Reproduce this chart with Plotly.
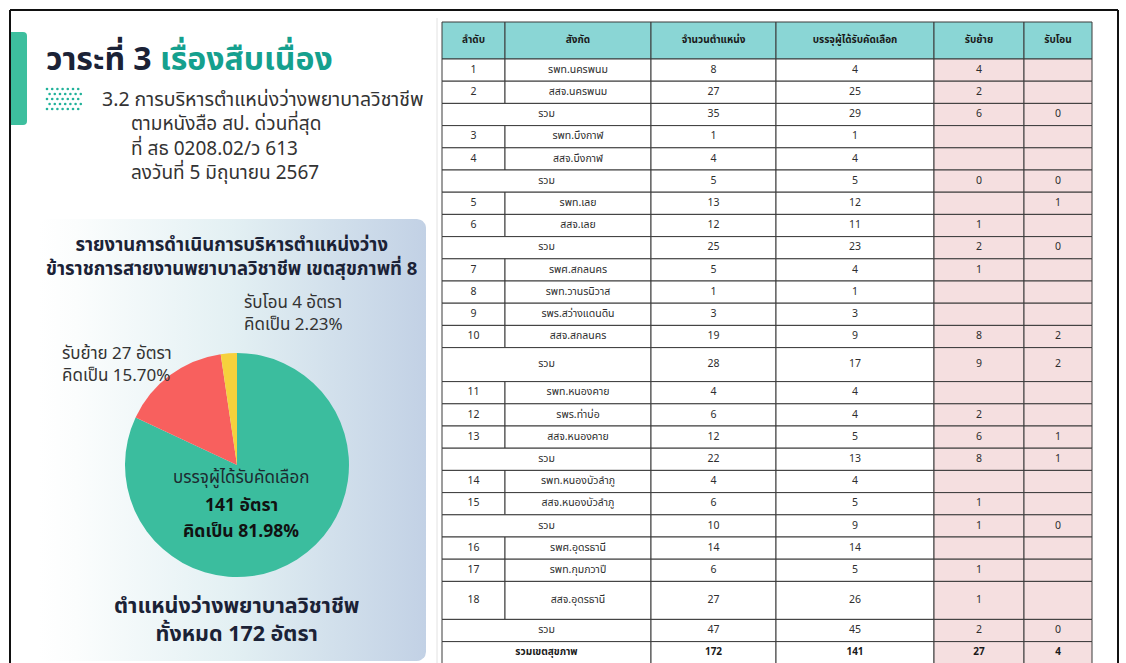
import numpy as np
import plotly.graph_objects as go

W, H = 1126, 663

# ---------------- data ----------------
pie_labels = ["บรรจุผู้ได้รับคัดเลือก", "รับย้าย", "รับโอน"]
pie_values = [141, 27, 4]
pie_pct_text = ["81.98%", "15.70%", "2.23%"]
pie_colors = ["#3bbd9e", "#f8605e", "#f6d13c"]
total_positions = 172

header = ["ลำดับ", "สังกัด", "จำนวนตำแหน่ง", "บรรจุผู้ได้รับคัดเลือก", "รับย้าย", "รับโอน"]
seq = ["1", "2", "", "3", "4", "", "5", "6", "", "7", "8", "9", "10", "",
       "11", "12", "13", "", "14", "15", "", "16", "17", "18", "", ""]
units = ["รพท.นครพนม", "สสจ.นครพนม", "รวม", "รพท.บึงกาฬ", "สสจ.บึงกาฬ", "รวม",
         "รพท.เลย", "สสจ.เลย", "รวม", "รพศ.สกลนคร", "รพท.วานรนิวาส", "รพร.สว่างแดนดิน",
         "สสจ.สกลนคร", "รวม", "รพท.หนองคาย", "รพร.ท่าบ่อ", "สสจ.หนองคาย", "รวม",
         "รพท.หนองบัวลำภู", "สสจ.หนองบัวลำภู", "รวม", "รพศ.อุดรธานี", "รพท.กุมภวาปี",
         "สสจ.อุดรธานี", "รวม", "รวมเขตสุขภาพ"]
positions = [8, 27, 35, 1, 4, 5, 13, 12, 25, 5, 1, 3, 19, 28, 4, 6, 12, 22, 4, 6, 10,
             14, 6, 27, 47, 172]
selected = [4, 25, 29, 1, 4, 5, 12, 11, 23, 4, 1, 3, 9, 17, 4, 4, 5, 13, 4, 5, 9,
            14, 5, 26, 45, 141]
moved = ["4", "2", "6", "", "", "0", "", "1", "2", "1", "", "", "8", "9", "", "2", "6",
         "8", "", "1", "1", "", "1", "1", "2", "27"]
transferred = ["", "", "0", "", "", "0", "1", "", "0", "", "", "", "2", "2", "", "", "1",
               "1", "", "", "0", "", "", "", "0", "4"]

# ---------------- layout constants ----------------
THAI = "Noto Sans Thai, Noto Sans Thai UI, Noto Sans, sans-serif"
NAVY = "#1b2236"
TEAL = "#15a08e"
TXT = "#2e2e2e"

col_edges = [442, 505, 651, 776, 934, 1024, 1092]
table_top = 22
header_h = 37
row_h = 22.2
tall_rows = {13: 34, 23: 38}
header_fill = "#8ad6d5"
pink_fill = "#f5dfe0"
grid_col = "#3a3a3a"

fig = go.Figure()
shapes = []
annotations = []

# ---- gradient panel (rounded rect) ----
def rounded_rect(x0, y0, x1, y1, r, n=8):
    xs, ys = [], []
    corners = [(x1 - r, y0 + r, -90, 0), (x1 - r, y1 - r, 0, 90),
               (x0 + r, y1 - r, 90, 180), (x0 + r, y0 + r, 180, 270)]
    for cx, cy, a0, a1 in corners:
        for a in np.linspace(np.radians(a0), np.radians(a1), n):
            xs.append(cx + r * np.cos(a))
            ys.append(cy + r * np.sin(a))
    xs.append(xs[0]); ys.append(ys[0])
    return xs, ys

px, py = rounded_rect(38, 219, 426, 661, 9)
fig.add_trace(go.Scatter(
    x=px, y=py, mode="lines", fill="toself", line=dict(width=0),
    fillgradient=dict(type="horizontal",
                      colorscale=[[0, "#ffffff"], [0.1, "#fbfdfd"], [0.5, "#e3f0f3"], [1, "#c2d1e5"]]),
    hoverinfo="skip", showlegend=False))

# ---- decorative dots icon ----
dx, dy = [], []
for j in range(5):
    for i in range(7):
        dx.append(47 + i * 5.2 + (j % 2) * 2.6)
        dy.append(89 + j * 5)
fig.add_trace(go.Scatter(x=dx, y=dy, mode="markers",
                         marker=dict(size=2.6, color="#22b29a"),
                         hoverinfo="skip", showlegend=False))

# ---- table ----
n_rows = len(units)
heights = [tall_rows.get(i, row_h) for i in range(n_rows)]
tops = [table_top + header_h + sum(heights[:i]) for i in range(n_rows)]

def cell_rect(x0, x1, y0, y1, fill):
    shapes.append(dict(type="rect", xref="x", yref="y", x0=x0, x1=x1, y0=y0, y1=y1,
                       fillcolor=fill, line=dict(color=grid_col, width=1), layer="below"))

norm_x, norm_y, norm_t = [], [], []
bold_x, bold_y, bold_t = [], [], []

# header
for c, h in enumerate(header):
    cell_rect(col_edges[c], col_edges[c + 1], table_top, table_top + header_h, header_fill)
    bold_x.append((col_edges[c] + col_edges[c + 1]) / 2)
    bold_y.append(table_top + header_h / 2)
    bold_t.append(h)

for i in range(n_rows):
    y0, y1 = tops[i], tops[i] + heights[i]
    yc = (y0 + y1) / 2
    merged = seq[i] == ""
    last = i == n_rows - 1
    vals = [seq[i], units[i], str(positions[i]), str(selected[i]), moved[i], transferred[i]]
    tx, ty, tt = (bold_x, bold_y, bold_t) if last else (norm_x, norm_y, norm_t)
    if merged:
        cell_rect(col_edges[0], col_edges[2], y0, y1, "#ffffff")
        tx.append((col_edges[0] + col_edges[2]) / 2); ty.append(yc); tt.append(vals[1])
        cols = range(2, 6)
    else:
        cols = range(0, 6)
    for c in cols:
        cell_rect(col_edges[c], col_edges[c + 1], y0, y1, pink_fill if c >= 4 else "#ffffff")
        if vals[c] != "":
            tx.append((col_edges[c] + col_edges[c + 1]) / 2); ty.append(yc); tt.append(vals[c])

fig.add_trace(go.Scatter(x=norm_x, y=norm_y, text=norm_t, mode="text",
                         textfont=dict(family=THAI, size=10.5, color=TXT),
                         hoverinfo="skip", showlegend=False))
fig.add_trace(go.Scatter(x=bold_x, y=bold_y, text=bold_t, mode="text",
                         textfont=dict(family=THAI, size=10, color="#1a1a1a", weight="bold"),
                         hoverinfo="skip", showlegend=False))

# ---- pie ----
cx, cy, rad = 237, 465, 112
fig.add_trace(go.Pie(
    labels=pie_labels, values=pie_values, sort=False, direction="clockwise", rotation=0,
    marker=dict(colors=pie_colors, line=dict(width=0)), textinfo="none",
    hoverinfo="label+value", showlegend=False,
    domain=dict(x=[(cx - rad) / W, (cx + rad) / W],
                y=[(H - cy - rad) / H, (H - cy + rad) / H])))

# ---- frame and decorations ----
shapes += [
    dict(type="line", xref="x", yref="y", x0=10, x1=1118, y0=10, y1=10, line=dict(color="#111", width=2)),
    dict(type="line", xref="x", yref="y", x0=10, x1=10, y0=10, y1=663, line=dict(color="#111", width=2)),
    dict(type="line", xref="x", yref="y", x0=1118, x1=1118, y0=10, y1=663, line=dict(color="#111", width=2)),
    dict(type="line", xref="x", yref="y", x0=437, x1=437, y0=18, y1=663, line=dict(color="#e2e2e2", width=1)),
    dict(type="path", xref="x", yref="y",
         path="M 11 32 L 23 32 Q 27 32 27 36 L 27 121 Q 27 125 23 125 L 11 125 Z",
         fillcolor="#3dbf9e", line=dict(width=0)),
]

def ann(x, y, text, size, color=TXT, xanchor="center", bold=False):
    annotations.append(dict(x=x, y=y, xref="x", yref="y", text=f"<b>{text}</b>" if bold else text,
                            showarrow=False, xanchor=xanchor, yanchor="middle", align=xanchor,
                            font=dict(family=THAI, size=size, color=color)))

ann(44, 60, f"วาระที่ 3 <span style='color:{TEAL}'>เรื่องสืบเนื่อง</span>", 32, NAVY, "left", True)
ann(100, 100, "3.2 การบริหารตำแหน่งว่างพยาบาลวิชาชีพ", 19.5, "#333", "left")
ann(129, 149, "ตามหนังสือ สป. ด่วนที่สุด<br>ที่ สธ 0208.02/ว 613<br>ลงวันที่ 5 มิถุนายน 2567",
    19, "#333", "left")

ann(231, 257, "รายงานการดำเนินการบริหารตำแหน่งว่าง<br>ข้าราชการสายงานพยาบาลวิชาชีพ เขตสุขภาพที่ 8",
    18.5, NAVY, bold=True)

ann(242, 313.5, f"{pie_labels[2]} {pie_values[2]} อัตรา<br>คิดเป็น {pie_pct_text[2]}", 17, "#333", "left")
ann(60, 364.5, f"{pie_labels[1]} {pie_values[1]} อัตรา<br>คิดเป็น {pie_pct_text[1]}", 17, "#333", "left")

ann(241, 478, pie_labels[0], 17, "#1d2a30")
ann(241, 505, f"{pie_values[0]} อัตรา", 17.5, "#111", bold=True)
ann(241, 531, f"คิดเป็น {pie_pct_text[0]}", 17.5, "#111", bold=True)

ann(236, 620.5, f"ตำแหน่งว่างพยาบาลวิชาชีพ<br>ทั้งหมด {total_positions} อัตรา", 21.5, NAVY, bold=True)

fig.update_layout(
    width=W, height=H, margin=dict(l=0, r=0, t=0, b=0),
    paper_bgcolor="white", plot_bgcolor="white",
    xaxis=dict(range=[0, W], visible=False, fixedrange=True),
    yaxis=dict(range=[H, 0], visible=False, fixedrange=True),
    shapes=shapes, annotations=annotations, showlegend=False,
)

fig.write_html("out.html", config={"displayModeBar": False},
               post_script="document.body.style.margin='0px';document.body.style.overflow='hidden';")
